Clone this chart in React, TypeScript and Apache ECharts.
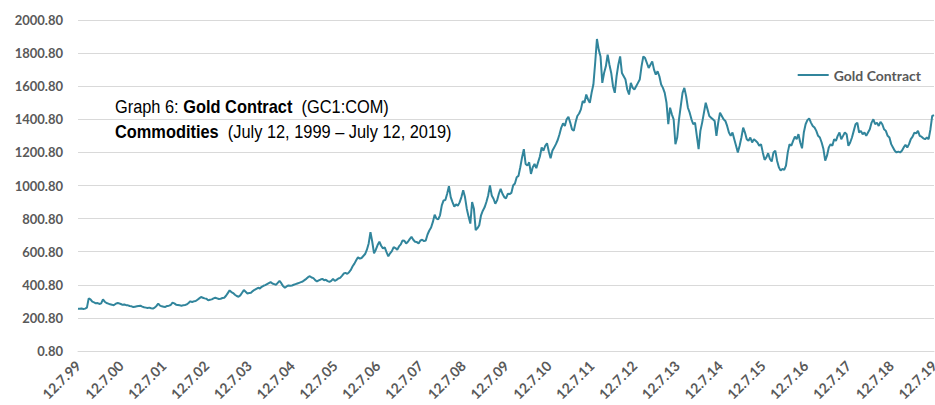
import React, { useEffect, useRef } from "react";
import * as echarts from "echarts";

// Gold Contract (GC1:COM), semi-monthly readings (12th and 27th), July to June
const gold1999_00 = [256, 255, 257, 254, 256, 262, 318, 312, 298, 294, 288, 290, 284, 288, 312, 298, 290, 286, 282, 280, 276, 284, 290, 288];
const gold2000_01 = [284, 279, 281, 277, 276, 272, 270, 266, 268, 270, 272, 274, 268, 264, 262, 260, 262, 258, 256, 262, 272, 286, 274, 270];
const gold2001_02 = [268, 266, 272, 274, 278, 292, 288, 280, 278, 276, 274, 276, 278, 282, 290, 300, 296, 300, 302, 310, 318, 326, 322, 318];
const gold2002_03 = [316, 306, 310, 312, 318, 322, 318, 314, 316, 320, 322, 334, 350, 366, 356, 350, 340, 332, 328, 336, 352, 368, 358, 348];
const gold2003_04 = [350, 352, 362, 370, 376, 382, 378, 388, 394, 398, 404, 410, 416, 408, 404, 400, 412, 424, 410, 392, 382, 390, 396, 394];
const gold2004_05 = [396, 400, 404, 408, 412, 416, 420, 428, 436, 446, 452, 444, 440, 428, 420, 426, 432, 436, 428, 430, 422, 418, 424, 436];
const gold2005_06 = [424, 430, 438, 442, 454, 468, 472, 466, 476, 490, 512, 528, 548, 566, 558, 562, 574, 586, 612, 650, 718, 660, 590, 612];
const gold2006_07 = [640, 660, 636, 620, 626, 598, 572, 590, 604, 628, 622, 612, 632, 644, 668, 666, 650, 660, 676, 690, 672, 660, 658, 650];
const gold2007_08 = [668, 672, 664, 668, 704, 728, 746, 780, 824, 800, 796, 820, 880, 910, 912, 950, 996, 930, 900, 872, 886, 878, 898, 930];
const gold2008_09 = [972, 930, 860, 812, 770, 900, 860, 730, 742, 760, 820, 848, 868, 900, 940, 1000, 940, 920, 890, 910, 950, 980, 950, 930];
const gold2009_10 = [922, 950, 948, 955, 1000, 1012, 1050, 1058, 1110, 1170, 1220, 1130, 1120, 1140, 1070, 1110, 1130, 1105, 1140, 1175, 1230, 1210, 1240, 1255];
const gold2010_11 = [1205, 1165, 1210, 1230, 1250, 1275, 1310, 1350, 1375, 1360, 1400, 1415, 1380, 1340, 1330, 1380, 1420, 1435, 1460, 1510, 1500, 1550, 1520, 1500];
const gold2011_12 = [1560, 1610, 1740, 1885, 1820, 1780, 1620, 1680, 1720, 1790, 1730, 1680, 1600, 1560, 1660, 1730, 1780, 1680, 1660, 1640, 1580, 1550, 1620, 1590];
const gold2012_13 = [1580, 1600, 1620, 1640, 1720, 1780, 1770, 1740, 1710, 1730, 1750, 1700, 1670, 1690, 1660, 1610, 1590, 1560, 1500, 1370, 1470, 1430, 1400, 1250];
const gold2013_14 = [1290, 1400, 1480, 1560, 1590, 1540, 1470, 1440, 1400, 1370, 1380, 1300, 1220, 1330, 1380, 1440, 1500, 1460, 1420, 1410, 1400, 1390, 1300, 1380];
const gold2014_15 = [1440, 1420, 1400, 1390, 1360, 1320, 1300, 1320, 1280, 1240, 1200, 1240, 1290, 1350, 1320, 1280, 1270, 1290, 1260, 1280, 1270, 1260, 1240, 1250];
const gold2015_16 = [1200, 1155, 1170, 1195, 1160, 1145, 1200, 1210, 1150, 1110, 1090, 1100, 1095, 1120, 1200, 1250, 1240, 1270, 1295, 1280, 1310, 1260, 1225, 1320];
const gold2016_17 = [1370, 1395, 1405, 1380, 1360, 1350, 1330, 1300, 1290, 1260, 1220, 1150, 1180, 1230, 1250, 1240, 1280, 1270, 1300, 1320, 1280, 1300, 1320, 1310];
const gold2017_18 = [1240, 1260, 1290, 1330, 1370, 1380, 1320, 1330, 1310, 1320, 1300, 1320, 1340, 1380, 1400, 1370, 1380, 1360, 1385, 1370, 1340, 1330, 1300, 1290];
const gold2018_19 = [1250, 1230, 1210, 1200, 1205, 1200, 1210, 1230, 1245, 1230, 1250, 1280, 1295, 1320, 1315, 1330, 1300, 1295, 1285, 1280, 1290, 1280, 1340, 1420];
const gold2019End = [1425];

const seriesName = "Gold Contract";
const yLabelOffset = 0.8;
const firstYear = 1999;
const firstMonth = 7;
const readingDays = [12, 27];

const values = [
  ...gold1999_00, ...gold2000_01, ...gold2001_02, ...gold2002_03, ...gold2003_04,
  ...gold2004_05, ...gold2005_06, ...gold2006_07, ...gold2007_08, ...gold2008_09,
  ...gold2009_10, ...gold2010_11, ...gold2011_12, ...gold2012_13, ...gold2013_14,
  ...gold2014_15, ...gold2015_16, ...gold2016_17, ...gold2017_18, ...gold2018_19,
  ...gold2019End,
];

const categories = values.map((_, i) => {
  const m = firstMonth - 1 + Math.floor(i / 2);
  const year = firstYear + Math.floor(m / 12);
  const month = (m % 12) + 1;
  const day = readingDays[i % 2];
  return `${day}.${month}.${String(year % 100).padStart(2, "0")}`;
});

const labelFont = "Lato, 'Open Sans', sans-serif";
const titleFont = "'Liberation Sans', Arial, sans-serif";

export default function App() {
  const ref = useRef<HTMLDivElement>(null);
  useEffect(() => {
    if (!ref.current) return;
    const chart = echarts.init(ref.current, undefined, { renderer: "svg" });
    chart.setOption({
      animation: false,
      backgroundColor: "#ffffff",
      grid: { left: 78, right: 1, top: 20, bottom: 54, outerBoundsMode: "none", containLabel: false },
      legend: {
        right: 9,
        top: 63,
        icon: "rect",
        itemWidth: 31,
        itemHeight: 2,
        itemGap: 10,
        textStyle: { fontFamily: labelFont, fontWeight: "bold", fontSize: 14, color: "#595959" },
        data: [seriesName],
      },
      xAxis: {
        type: "category",
        data: categories,
        boundaryGap: false,
        axisLine: { show: true, lineStyle: { color: "#d9d9d9" } },
        axisTick: { show: false },
        splitLine: { show: false },
        axisLabel: {
          interval: (index: number) => index % 24 === 0,
          rotate: 45,
          margin: 12,
          fontFamily: labelFont,
          fontWeight: "bold",
          fontSize: 14,
          color: "#595959",
          showMaxLabel: true,
          hideOverlap: false,
        },
      },
      yAxis: {
        type: "value",
        min: 0,
        max: 2000,
        interval: 200,
        axisLine: { show: false },
        axisTick: { show: false },
        splitLine: { lineStyle: { color: "#d9d9d9", width: 1 } },
        axisLabel: {
          formatter: (v: number) => (v + yLabelOffset).toFixed(2),
          margin: 15,
          fontFamily: labelFont,
          fontWeight: "bold",
          fontSize: 13,
          color: "#595959",
        },
      },
      series: [
        {
          name: seriesName,
          type: "line",
          data: values,
          showSymbol: false,
          symbol: "none",
          lineStyle: { color: "#31859C", width: 2 },
          itemStyle: { color: "#31859C" },
        },
      ],
      graphic: [
        {
          type: "text",
          x: 115,
          y: 94,
          scaleX: 0.91,
          style: {
            text:
              "{r|Graph 6: }{b|Gold Contract}{r|  (GC1:COM)}\n{b|Commodities}{r|  (July 12, 1999 – July 12, 2019)}",
            rich: {
              r: { fontFamily: titleFont, fontSize: 18, fill: "#000000", lineHeight: 25 },
              b: { fontFamily: titleFont, fontSize: 18, fontWeight: "bold", fill: "#000000", lineHeight: 25 },
            },
          },
        },
      ],
    });
    return () => chart.dispose();
  }, []);
  return (
    <div
      ref={ref}
      style={{ position: "fixed", left: 0, top: 0, width: 935, height: 405, background: "#fff" }}
    />
  );
}
